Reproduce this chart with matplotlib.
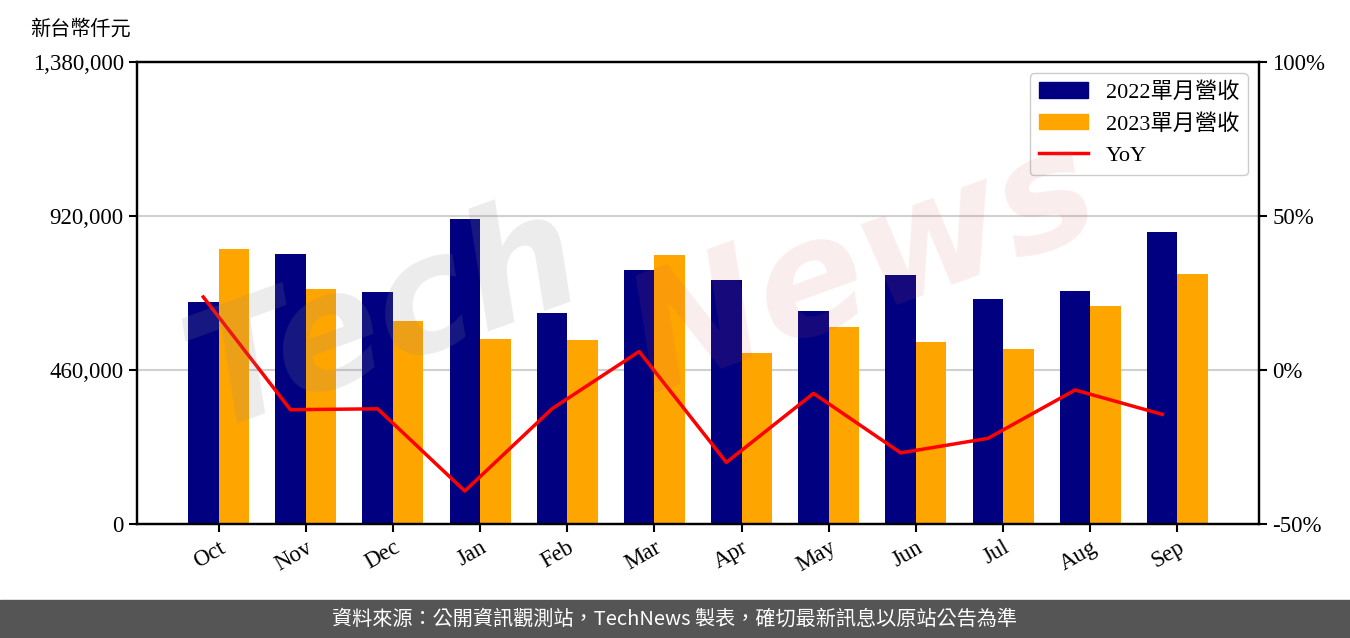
import matplotlib
matplotlib.use("Agg")
import matplotlib.pyplot as plt
import numpy as np
from matplotlib.ticker import FuncFormatter
from matplotlib.patches import Patch
from matplotlib.lines import Line2D

months = ["Oct", "Nov", "Dec", "Jan", "Feb", "Mar", "Apr", "May", "Jun", "Jul", "Aug", "Sep"]
rev_2022 = [663000, 806000, 693000, 911000, 630000, 759000, 729000, 636000, 744000, 672000, 696000, 872000]
rev_2023 = [821000, 702000, 606000, 553000, 550000, 803000, 511000, 588000, 544000, 523000, 651000, 747000]
yoy = [23.7, -12.9, -12.6, -39.3, -12.6, 6.0, -30.0, -7.6, -26.9, -22.2, -6.5, -14.4]
left_ticks = [0, 460000, 920000, 1380000]
right_ticks = [-50, 0, 50, 100]

SERIF = ["Liberation Serif", "Noto Sans CJK TC"]
plt.rcParams["font.family"] = SERIF

fig = plt.figure(figsize=(13.5, 6.38), dpi=100)
ax = fig.add_axes([0.1015, 0.1787, 0.8311, 0.7241])

x = np.arange(len(months))
w = 0.35
ax.bar(x - w / 2, rev_2022, width=w, color="#000080", zorder=2)
ax.bar(x + w / 2, rev_2023, width=w, color="#FFA500", zorder=2)
ax.set_ylim(0, 1380000)
ax.set_yticks(left_ticks)
ax.yaxis.set_major_formatter(FuncFormatter(lambda v, p: f"{int(v):,}"))
ax.set_xticks(x)
ax.set_xticklabels(months, rotation=30, ha="right", rotation_mode="anchor")
ax.grid(axis="y", color="#d0d0d0", linewidth=1.5, zorder=0)
ax.set_axisbelow(True)
ax.tick_params(labelsize=16.5, width=1.5, length=6)
for s in ax.spines.values():
    s.set_linewidth(1.6)

ax2 = ax.twinx()
ax2.plot(x - w / 2, yoy, color="red", linewidth=2.5, zorder=3)
ax2.set_ylim(-50, 100)
ax2.set_yticks(right_ticks)
ax2.yaxis.set_major_formatter(FuncFormatter(lambda v, p: f"{int(v)}%"))
ax2.tick_params(labelsize=16.5, width=1.5, length=6)
for s in ax2.spines.values():
    s.set_linewidth(1.6)

handles = [Patch(color="#000080", label="2022單月營收"),
           Patch(color="#FFA500", label="2023單月營收"),
           Line2D([0], [0], color="red", linewidth=2.5, label="YoY")]
leg = ax2.legend(handles=handles, loc="upper right", fontsize=16, framealpha=1,
                 edgecolor="#cccccc", fancybox=True, handlelength=2.2)

# watermark
fig.text(0.285, 0.50, "Tech", fontsize=115, color=(0.55, 0.55, 0.55), alpha=0.17,
         rotation=20, ha="center", va="center", style="italic", fontweight="bold",
         family="DejaVu Sans", zorder=0)
fig.text(0.64, 0.58, "News", fontsize=115, color=(0.85, 0.35, 0.35), alpha=0.11,
         rotation=20, ha="center", va="center", style="italic", fontweight="bold",
         family="DejaVu Sans", zorder=0)

fig.text(0.022, 0.955, "新台幣仟元", fontsize=14.5, ha="left", va="center",
         family=["Noto Sans CJK TC", "DejaVu Sans"])

# footer band
fig.patches.append(plt.Rectangle((0, 0), 1, 38 / 638, transform=fig.transFigure,
                                 color="#555555", zorder=0))
fig.text(0.5, 19 / 638, "資料來源：公開資訊觀測站，TechNews 製表，確切最新訊息以原站公告為準",
         color="white", fontsize=14.5, ha="center", va="center",
         family=["Noto Sans CJK TC", "DejaVu Sans"])

fig.savefig("out.png", dpi=100)
